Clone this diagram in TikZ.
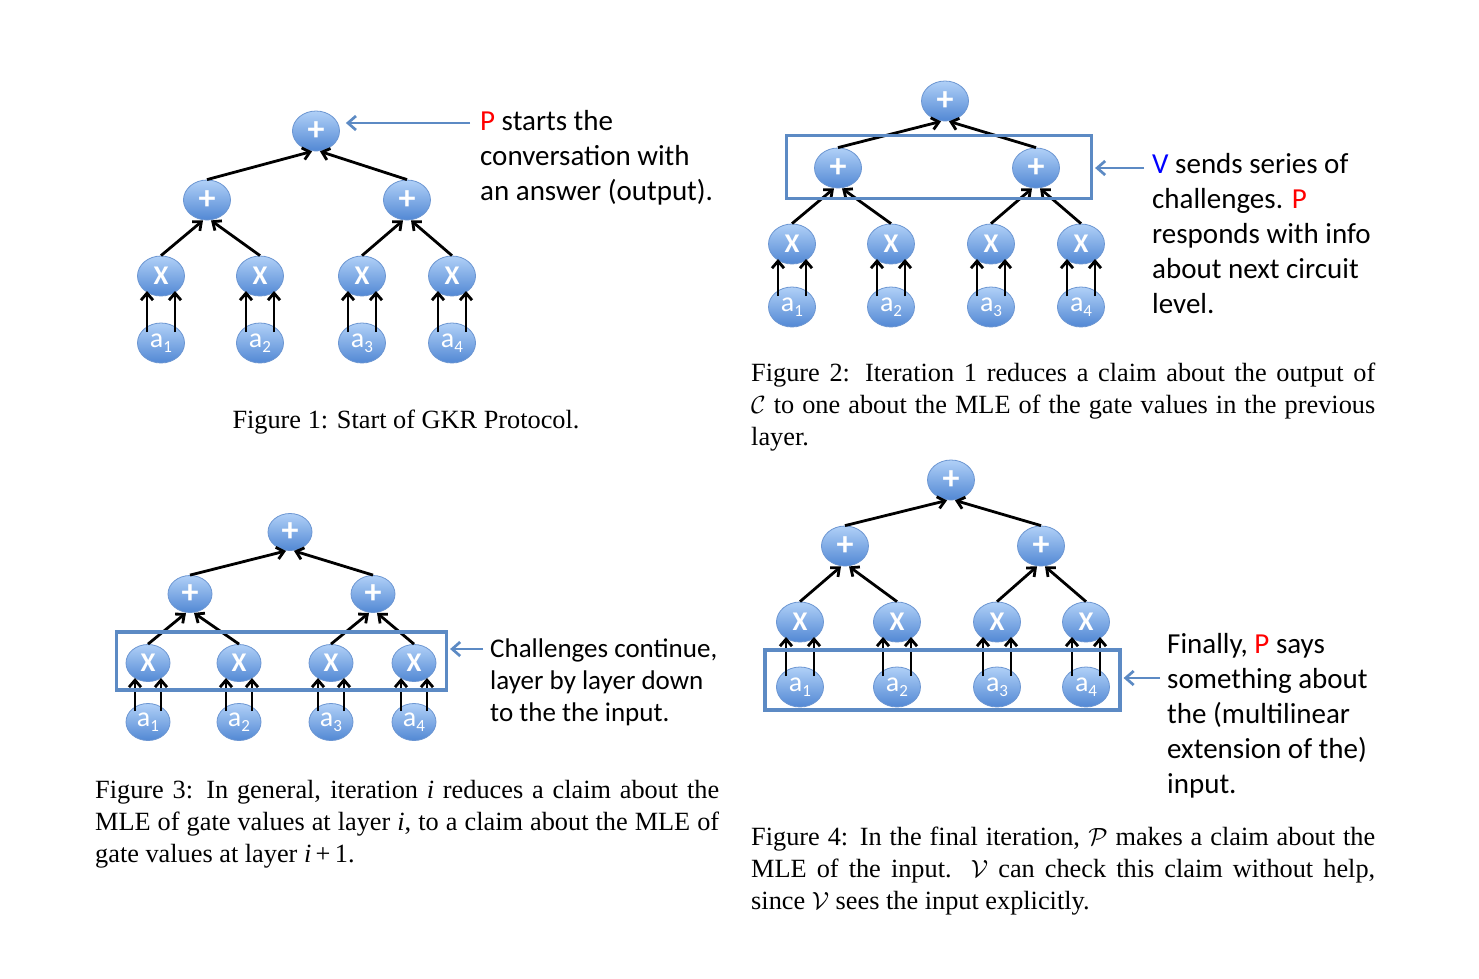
\documentclass[tikz,border=0pt]{standalone}
\usepackage{fontspec}
\setmainfont{Liberation Serif}
\newfontfamily\calibri{Carlito}
\usetikzlibrary{shapes.geometric,arrows.meta}
\definecolor{gtop}{RGB}{176,208,247}
\definecolor{gbot}{RGB}{82,136,212}
\definecolor{gline}{RGB}{108,150,210}
\definecolor{callblue}{RGB}{92,138,196}
\newcommand\gsub[1]{\raisebox{-5pt}{\fontsize{17}{17}\selectfont #1}}
\tikzset{
  gate/.style={ellipse, minimum width=47pt, minimum height=40pt, inner sep=0pt,
    top color=gtop, bottom color=gbot, draw=gline, line width=0.8pt,
    text=white, font=\calibri\bfseries\fontsize{27}{27}\selectfont},
  smallgate/.style={gate, minimum width=44pt, minimum height=37pt},
  plab/.style={font=\calibri\bfseries\fontsize{34}{34}\selectfont},
  alab/.style={font=\calibri\fontsize{28}{28}\selectfont},
  edge/.style={line width=2.8pt, -{Straight Barb[length=7pt,width=12pt]}},
  callout/.style={draw=callblue, line width=2.7pt, -{Straight Barb[length=8pt,width=14pt]}},
  layerbox/.style={draw=callblue, line width=3.2pt, rectangle, inner sep=0pt},
  note/.style={anchor=north west, inner sep=0pt, align=left, font=\calibri\fontsize{29}{35}\selectfont},
  capfig/.style={inner sep=0pt, font=\fontsize{26.3}{32}\selectfont},
  jcap/.style={capfig, anchor=north west, text width=624pt, align=justify}
}
% #1 prefix, #2 top x, #3 top y, #4 left x, #5 right x, #6 level-2 y, #7 X xs, #8 X y, #9 a y
\newcommand\gkrtree[9]{%
  \node[\gst,plab] (#1t) at (#2,#3) {+};
  \node[\gst,plab] (#1l) at (#4,#6) {+};
  \node[\gst,plab] (#1r) at (#5,#6) {+};
  \foreach \xx [count=\i] in {#7} {
    \node[\gst] (#1x\i) at (\xx,#8) {X};
    \node[\gst,alab] (#1a\i) at (\xx,#9) {a\gsub{\i}};
  }
  \foreach \i in {1,...,4} {
    \draw[edge] ([xshift=-\off,yshift=11pt]#1a\i.center) -- ([xshift=-\off,yshift=-15pt]#1x\i.center);
    \draw[edge] ([xshift=\off,yshift=11pt]#1a\i.center) -- ([xshift=\off,yshift=-15pt]#1x\i.center);
  }
  \draw[edge] (#1x1.north) -- ([xshift=-4pt]#1l.south);
  \draw[edge] (#1x2.north) -- ([xshift=4pt]#1l.south);
  \draw[edge] (#1x3.north) -- ([xshift=-4pt]#1r.south);
  \draw[edge] (#1x4.north) -- ([xshift=4pt]#1r.south);
  \draw[edge] (#1l.north) -- ([xshift=-4pt]#1t.south);
  \draw[edge] (#1r.north) -- ([xshift=4pt]#1t.south);
}
\begin{document}
\begin{tikzpicture}[x=1pt,y=-1pt]
\fill[white] (0,0) rectangle (1479,978);
\useasboundingbox (0,0) rectangle (1479,978);

% ---------- Figure 1
\def\gst{gate}\def\off{14pt}
\gkrtree{f1}{316}{131}{207}{407}{200}{161,260,362,452}{276}{343}
\node[note] (n1) at (480,110) {{\color{red}P} starts the\\conversation with\\an answer (output).};
\coordinate (c1) at (470,123);
\draw[callout, shorten >=6pt] (c1) -- (c1 -| f1t.east);
\node[capfig, anchor=north] (cap1) at (406,410) {Figure 1: Start of GKR Protocol.};

% ---------- Figure 2
\def\gst{gate}\def\off{14pt}
\gkrtree{f2}{945}{101}{838}{1036}{168}{792,891,991,1081}{244}{307}
\node[layerbox, minimum width=305pt, minimum height=63pt] (b2) at (939,167) {};
\node[note] (n2) at (1152,153) {{\color{blue}V} sends series of\\challenges. {\color{red}P}\\responds with info\\about next circuit\\level.};
\coordinate (c2) at (1144,168);
\draw[callout, shorten >=2pt] (c2) -- (c2 -| b2.east);
\node[jcap] (cap2) at (751,363) {Figure 2: Iteration 1 reduces a claim about the output of\linebreak $\mathcal{C}$ to one about the MLE of the gate values in the previous\linebreak layer.};

% ---------- Figure 3
\def\gst{smallgate}\def\off{13pt}
\gkrtree{f3}{290}{532}{190}{373}{594}{148,239,331,414}{663}{722}
\node[layerbox, minimum width=330pt, minimum height=58pt] (b3) at (281.5,661) {};
\node[note, font=\calibri\fontsize{27}{32}\selectfont] (n3) at (490,639) {Challenges continue,\\layer by layer down\\to the the input.};
\coordinate (c3) at (483,649);
\draw[callout, shorten >=2pt] (c3) -- (c3 -| b3.east);
\node[jcap] (cap3) at (95,780) {Figure 3: In general, iteration \textit{i} reduces a claim about the\linebreak MLE of gate values at layer \textit{i}, to a claim about the MLE of\linebreak gate values at layer \textit{i}\,+\,1.};

% ---------- Figure 4
\def\gst{gate}\def\off{14pt}
\gkrtree{f4}{951}{480}{845}{1041}{546}{800,897,997,1086}{622}{687}
\node[layerbox, minimum width=355pt, minimum height=60pt] (b4) at (942.5,680) {};
\node[note] (n4) at (1167,633) {Finally, {\color{red}P} says\\something about\\the (multilinear\\extension of the)\\input.};
\coordinate (c4) at (1160,678);
\draw[callout, shorten >=2pt] (c4) -- (c4 -| b4.east);
\node[jcap] (cap4) at (751,827) {Figure 4: In the final iteration, $\mathcal{P}$ makes a claim about the\linebreak MLE of the input. $\mathcal{V}$ can check this claim without help,\linebreak since $\mathcal{V}$ sees the input explicitly.};
\end{tikzpicture}
\end{document}
